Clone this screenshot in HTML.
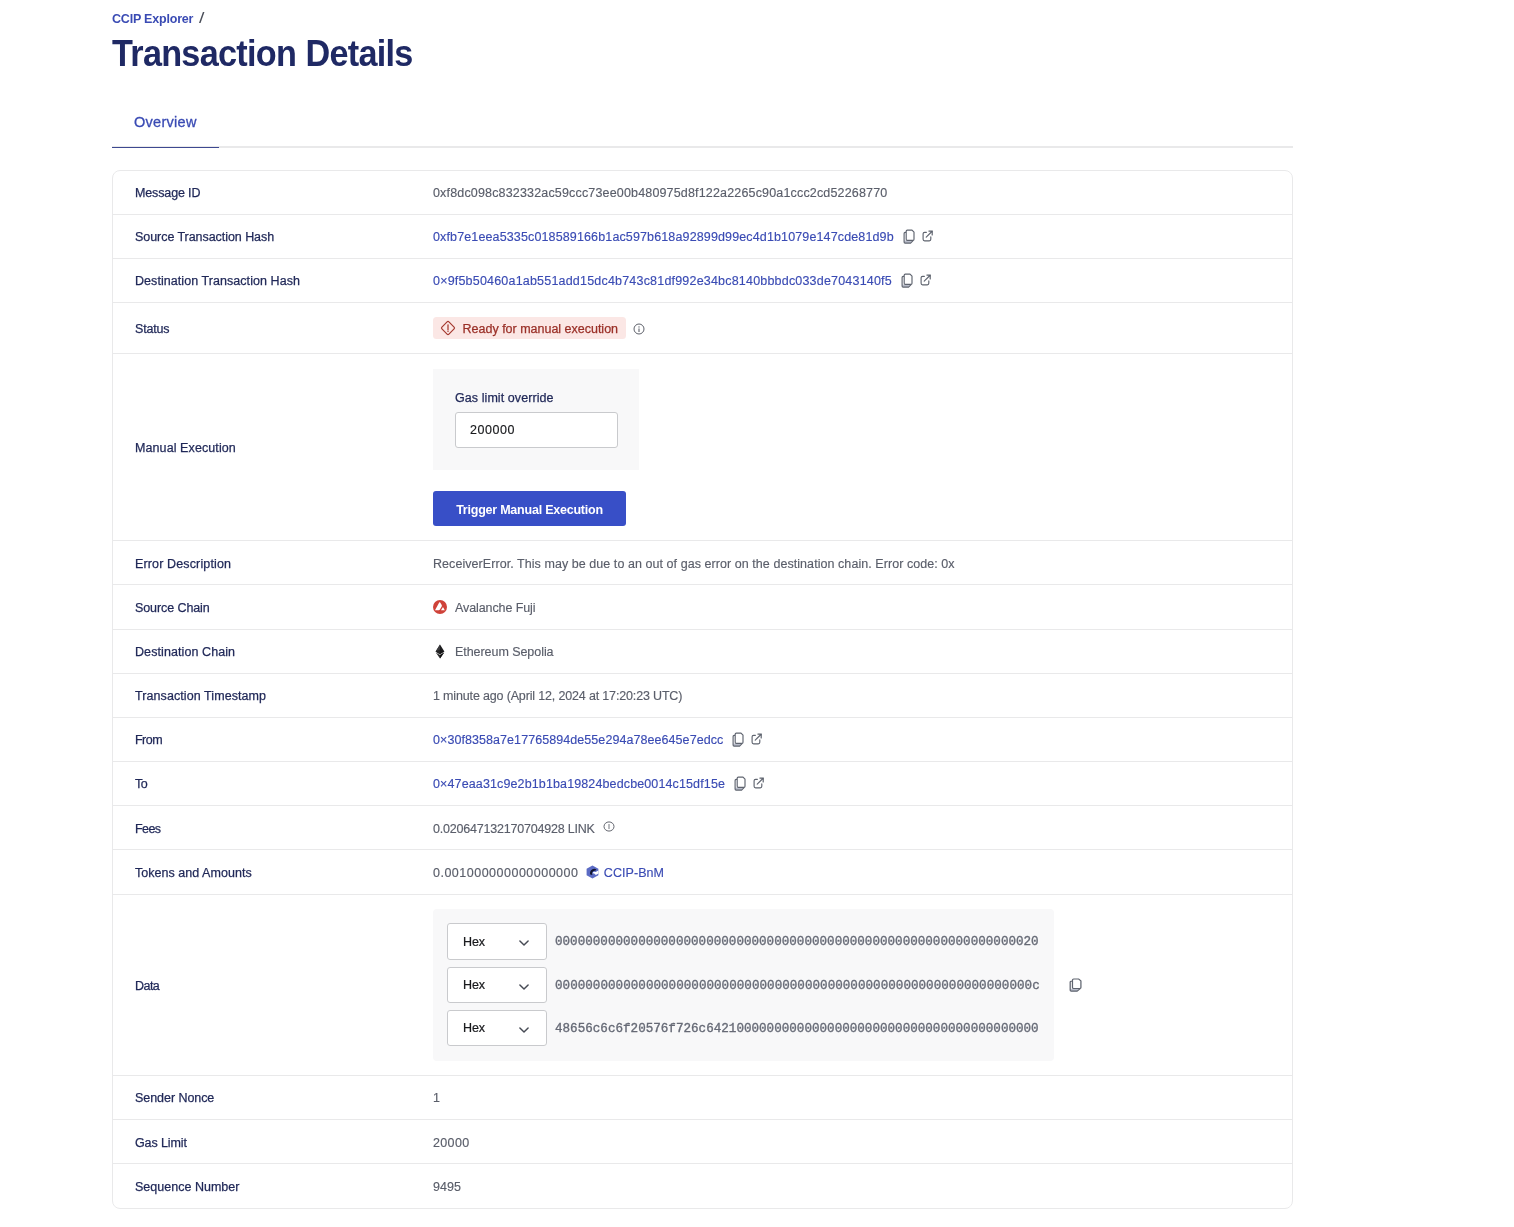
<!DOCTYPE html>
<html lang="en">
<head>
<meta charset="utf-8">
<title>Transaction Details</title>
<style>
*{box-sizing:border-box;margin:0;padding:0}
html,body{width:1514px;height:1227px;background:#fff;overflow:hidden}
body{font-family:"Liberation Sans",sans-serif;font-size:12.5px;color:#5a5e6a;position:relative}
span{white-space:nowrap}
.crumb{position:absolute;left:112px;top:10px;height:17px;line-height:17px;font-size:12.5px;font-weight:700;color:#3a4bb4;white-space:nowrap}
.crumb .sl{color:#4b4f59;font-weight:400;margin-left:6px;font-size:14.5px;display:inline-block;transform:scaleX(1.35);transform-origin:0 50%}
h1{position:absolute;left:112.3px;top:31.6px;font-size:36px;line-height:44px;font-weight:700;color:#1f2964;white-space:nowrap;transform:scaleX(.95);transform-origin:0 0}
.tabline{position:absolute;left:112px;top:146px;width:1181px;height:2px;background:#e9e9ea}
.tabsel{position:absolute;left:112px;top:147px;width:107px;height:1px;background:#3d4890}
.tab{position:absolute;left:134px;top:112.5px;height:18px;line-height:18px;font-size:14.5px;color:#3a4bb4;white-space:nowrap}
.card{position:absolute;left:112px;top:170px;width:1181px;border:1px solid #e9e9ea;border-radius:8px;background:#fff}
.row{position:relative;border-top:1px solid #e9e9ea;height:44px}
.row:first-child{border-top:0;height:43px}
.lab{position:absolute;left:22px;top:0;bottom:0;display:flex;align-items:center;color:#1f2757;white-space:nowrap}
.val{position:absolute;left:320px;top:0;bottom:0;display:flex;align-items:center;white-space:nowrap}
.lnk{color:#3a4bb4}
.ic{display:block;flex:none}
.cp{margin-left:9px}
.ex{margin-left:7px;position:relative;top:-0.7px}
.badge{display:flex;align-items:center;width:193px;height:22px;background:#fbe7e5;border-radius:3.5px;color:#9a2f27;padding:0 0 0 6.5px;-webkit-text-stroke:0.25px #9a2f27}
.badge .wr{margin-right:7.1px}
.sinf{margin-left:6.5px;position:relative;top:0.5px}
.gbox{position:absolute;left:0;top:15px;width:206px;height:101px;background:#f8f8f9}
.glab{position:absolute;left:22px;top:20.7px;line-height:16px;color:#1f2757}
.ginp{position:absolute;left:22px;top:43px;width:163px;height:36px;border:1px solid #c9cacd;border-radius:3px;background:#fff;line-height:34.5px;padding-left:14px;color:#18191c}
.btn{position:absolute;left:0;top:137px;width:193px;height:35px;border-radius:3px;background:#384fc7;color:#fff;font-weight:700;text-align:center;line-height:38px;overflow:hidden}
.av{margin-right:8px}
.et{margin:0 10px 0 2px}
.finf{margin-left:8px;position:relative;top:-1.1px;height:11px}
.tk{margin:0 4.9px 0 7.5px}
.dbox{position:absolute;left:0;top:14px;width:620.5px;height:152px;background:#f8f8f9;border-radius:4px}
.drow{position:absolute;left:14px;height:36px;display:flex;align-items:center}
.drow:nth-child(1){top:14px}
.drow:nth-child(2){top:58px}
.drow:nth-child(3){top:101px}
.sel{position:relative;width:100px;height:36px;border:1px solid #c9cacd;border-radius:3px;background:#fff;line-height:34px;padding-left:15px;color:#18191c;margin-right:8px}
.chev{position:absolute;left:71px;top:15.5px;width:10px;height:6.4px}
.mono{font-family:"Liberation Mono",monospace;font-size:12.6px;color:#666a76;-webkit-text-stroke:0.35px #666a76}
.dcp{position:absolute;left:636.4px;top:83.2px;margin:0;width:13px;height:14px}
.h1b{margin-left:9.9px}
.lab{-webkit-text-stroke:0.25px #1f2757}
.tab{-webkit-text-stroke:0.3px #3a4bb4}
#l3,#v3,#l4,#l5,#v5,#l6,#v6,#l11,#v11,#l12,#v12,#v12b,#l13,#l15,#v15,#l16,#v16{position:relative;top:1px}
.mono{position:relative;top:1px}
.drow:nth-child(1),.drow:nth-child(1) .sel{height:37px}
.drow:nth-child(1) .sel{line-height:37px}
.drow:nth-child(1) .mono{top:0}
.sel{-webkit-text-stroke:0.2px #18191c}
.ginp{-webkit-text-stroke:0.15px #18191c}
.glab{-webkit-text-stroke:0.25px #1f2757}
.page{position:absolute;left:0;top:0;width:1514px;height:1227px;will-change:transform}
.val{-webkit-text-stroke:0.15px}
.btn{-webkit-text-stroke:0}
</style>
</head>
<body>
<div class="page">
<div class="crumb"><span id="c1" style="letter-spacing:-0.200px">CCIP Explorer</span><span id="c2" class="sl">/</span></div>
<h1><span id="h1a" style="letter-spacing:-0.756px">Transaction</span><span id="h1b" class="h1b" style="letter-spacing:-0.756px">Details</span></h1>
<div class="tab"><span id="t1" style="letter-spacing:0.286px">Overview</span></div>
<div class="tabline"></div>
<div class="tabsel"></div>
<div class="card">
  <div class="row"><div class="lab"><span id="l0" style="letter-spacing:-0.134px">Message ID</span></div><div class="val"><span id="v0" style="letter-spacing:0.166px">0xf8dc098c832332ac59ccc73ee00b480975d8f122a2265c90a1ccc2cd52268770</span></div></div>
  <div class="row"><div class="lab"><span id="l1" style="letter-spacing:-0.054px">Source Transaction Hash</span></div><div class="val"><span id="v1" class="lnk" style="letter-spacing:0.135px">0xfb7e1eea5335c018589166b1ac597b618a92899d99ec4d1b1079e147cde81d9b</span><svg class="ic cp" width="12" height="15" viewBox="0 0 12 15"><path d="M3.2 11.5 H9.2 L7.4 14.1 H2.1 Q1.1 14.1 1.1 13.1 V11.5 Z" fill="#b9bdca"/><path d="M3.2 3.4 H2.1 Q1.1 3.4 1.1 4.4 V13.1 Q1.1 14.1 2.1 14.1 H7.6 L10.3 11.4" fill="none" stroke="#5f646f" stroke-width="1.15" stroke-linejoin="round"/><path d="M4.3 1.1 H9 L11 3.2 V10.2 Q11 11.3 9.9 11.3 H4.3 Q3.2 11.3 3.2 10.2 V2.2 Q3.2 1.1 4.3 1.1 Z" fill="#fff" stroke="#5f646f" stroke-width="1.15" stroke-linejoin="round"/></svg><svg class="ic ex" width="12" height="12" viewBox="0 0 12 12"><path d="M4.4 2.3 H2.6 Q1.1 2.3 1.1 3.8 V9.3 Q1.1 10.8 2.6 10.8 H7.3 Q8.8 10.8 8.8 9.3 V6.9" fill="none" stroke="#5f646f" stroke-width="1.15" stroke-linecap="round"/><path d="M4.2 7.2 L9.9 1.5" fill="none" stroke="#5f646f" stroke-width="1.15" stroke-linecap="round"/><path d="M6.9 1.1 H10.2 V4.9" fill="none" stroke="#5f646f" stroke-width="1.2" stroke-linecap="round" stroke-linejoin="miter"/><path d="M8.2 1.1 H10.2 V3.1 Z" fill="#5f646f"/></svg></div></div>
  <div class="row"><div class="lab"><span id="l2" style="letter-spacing:0.060px">Destination Transaction Hash</span></div><div class="val"><span id="v2" class="lnk" style="letter-spacing:0.197px">0×9f5b50460a1ab551add15dc4b743c81df992e34bc8140bbbdc033de7043140f5</span><svg class="ic cp" width="12" height="15" viewBox="0 0 12 15"><path d="M3.2 11.5 H9.2 L7.4 14.1 H2.1 Q1.1 14.1 1.1 13.1 V11.5 Z" fill="#b9bdca"/><path d="M3.2 3.4 H2.1 Q1.1 3.4 1.1 4.4 V13.1 Q1.1 14.1 2.1 14.1 H7.6 L10.3 11.4" fill="none" stroke="#5f646f" stroke-width="1.15" stroke-linejoin="round"/><path d="M4.3 1.1 H9 L11 3.2 V10.2 Q11 11.3 9.9 11.3 H4.3 Q3.2 11.3 3.2 10.2 V2.2 Q3.2 1.1 4.3 1.1 Z" fill="#fff" stroke="#5f646f" stroke-width="1.15" stroke-linejoin="round"/></svg><svg class="ic ex" width="12" height="12" viewBox="0 0 12 12"><path d="M4.4 2.3 H2.6 Q1.1 2.3 1.1 3.8 V9.3 Q1.1 10.8 2.6 10.8 H7.3 Q8.8 10.8 8.8 9.3 V6.9" fill="none" stroke="#5f646f" stroke-width="1.15" stroke-linecap="round"/><path d="M4.2 7.2 L9.9 1.5" fill="none" stroke="#5f646f" stroke-width="1.15" stroke-linecap="round"/><path d="M6.9 1.1 H10.2 V4.9" fill="none" stroke="#5f646f" stroke-width="1.2" stroke-linecap="round" stroke-linejoin="miter"/><path d="M8.2 1.1 H10.2 V3.1 Z" fill="#5f646f"/></svg></div></div>
  <div class="row" style="height:51px"><div class="lab"><span id="l3" style="letter-spacing:-0.200px">Status</span></div><div class="val"><span class="badge"><svg class="ic wr" width="16" height="16" viewBox="0 0 16 16"><rect x="3.05" y="3.05" width="9.9" height="9.9" rx="1.3" ry="1.3" transform="rotate(45 8 8)" fill="none" stroke="#a5382f" stroke-width="1.2"/><path d="M8 4.8 V9.7" stroke="#a5382f" stroke-width="1.25" stroke-linecap="round"/><circle cx="8" cy="11.2" r="0.75" fill="#a5382f"/></svg><span id="v3" style="letter-spacing:-0.008px">Ready for manual execution</span></span><svg class="ic inf sinf" width="12" height="12" viewBox="0 0 12 12"><circle cx="6" cy="6" r="5" fill="none" stroke="#5c5f69" stroke-width="1"/><path d="M6 5.5 V8.9" stroke="#5c5f69" stroke-width="1.1"/><circle cx="6" cy="3.9" r="0.7" fill="#5c5f69"/></svg></div></div>
  <div class="row" style="height:187px"><div class="lab"><span id="l4" style="letter-spacing:0.093px">Manual Execution</span></div><div class="val"><div class="gbox"><div class="glab"><span id="g1" style="letter-spacing:0.071px">Gas limit override</span></div><div class="ginp"><span id="g2" style="letter-spacing:0.560px">200000</span></div></div><div class="btn"><span id="g3" style="letter-spacing:-0.226px">Trigger Manual Execution</span></div></div></div>
  <div class="row"><div class="lab"><span id="l5" style="letter-spacing:0.137px">Error Description</span></div><div class="val"><span id="v5" style="letter-spacing:0.060px">ReceiverError. This may be due to an out of gas error on the destination chain. Error code: 0x</span></div></div>
  <div class="row" style="height:45px"><div class="lab"><span id="l6" style="letter-spacing:-0.091px">Source Chain</span></div><div class="val"><svg class="ic av" width="14" height="14" viewBox="0 0 14 14"><circle cx="7" cy="7" r="7" fill="#cf4239"/><path d="M2.0 10.3 L6.2 2.6 Q6.7 1.8 7.2 2.6 L8.7 5.0 Q9.1 5.7 8.7 6.4 L6.9 9.6 Q6.5 10.3 5.7 10.3 Z" fill="#fff"/><path d="M8.0 10.3 L9.5 7.7 Q9.95 7.0 10.4 7.7 L11.8 10.3 Z" fill="#fff"/></svg><span id="v6" class="cn" style="letter-spacing:-0.093px">Avalanche Fuji</span></div></div>
  <div class="row"><div class="lab"><span id="l7" style="letter-spacing:0.087px">Destination Chain</span></div><div class="val"><svg class="ic et" width="10" height="15" viewBox="0 0 10 15"><path d="M5 0.6 L9.4 7.6 L5 10.2 L0.6 7.6 Z" fill="#1d1d1f"/><path d="M5 0.6 L5 10.2 L0.6 7.6 Z" fill="#3a3a3d"/><path d="M5 5.6 L9.4 7.6 L5 10.2 L0.6 7.6 Z" fill="#111" opacity=".55"/><path d="M0.8 8.6 L5 11.1 L9.2 8.6 L5 14.4 Z" fill="#2a2a2c"/><path d="M5 11.1 L9.2 8.6 L5 14.4 Z" fill="#111"/></svg><span id="v7" class="cn" style="letter-spacing:-0.053px">Ethereum Sepolia</span></div></div>
  <div class="row"><div class="lab"><span id="l8" style="letter-spacing:0.080px">Transaction Timestamp</span></div><div class="val"><span id="v8" style="letter-spacing:-0.159px">1 minute ago (April 12, 2024 at 17:20:23 UTC)</span></div></div>
  <div class="row"><div class="lab"><span id="l9" style="letter-spacing:-0.533px">From</span></div><div class="val"><span id="v9" class="lnk" style="letter-spacing:0.069px">0×30f8358a7e17765894de55e294a78ee645e7edcc</span><svg class="ic cp" width="12" height="15" viewBox="0 0 12 15"><path d="M3.2 11.5 H9.2 L7.4 14.1 H2.1 Q1.1 14.1 1.1 13.1 V11.5 Z" fill="#b9bdca"/><path d="M3.2 3.4 H2.1 Q1.1 3.4 1.1 4.4 V13.1 Q1.1 14.1 2.1 14.1 H7.6 L10.3 11.4" fill="none" stroke="#5f646f" stroke-width="1.15" stroke-linejoin="round"/><path d="M4.3 1.1 H9 L11 3.2 V10.2 Q11 11.3 9.9 11.3 H4.3 Q3.2 11.3 3.2 10.2 V2.2 Q3.2 1.1 4.3 1.1 Z" fill="#fff" stroke="#5f646f" stroke-width="1.15" stroke-linejoin="round"/></svg><svg class="ic ex" width="12" height="12" viewBox="0 0 12 12"><path d="M4.4 2.3 H2.6 Q1.1 2.3 1.1 3.8 V9.3 Q1.1 10.8 2.6 10.8 H7.3 Q8.8 10.8 8.8 9.3 V6.9" fill="none" stroke="#5f646f" stroke-width="1.15" stroke-linecap="round"/><path d="M4.2 7.2 L9.9 1.5" fill="none" stroke="#5f646f" stroke-width="1.15" stroke-linecap="round"/><path d="M6.9 1.1 H10.2 V4.9" fill="none" stroke="#5f646f" stroke-width="1.2" stroke-linecap="round" stroke-linejoin="miter"/><path d="M8.2 1.1 H10.2 V3.1 Z" fill="#5f646f"/></svg></div></div>
  <div class="row"><div class="lab"><span id="l10" style="letter-spacing:-0.600px">To</span></div><div class="val"><span id="v10" class="lnk" style="letter-spacing:0.126px">0×47eaa31c9e2b1b1ba19824bedcbe0014c15df15e</span><svg class="ic cp" width="12" height="15" viewBox="0 0 12 15"><path d="M3.2 11.5 H9.2 L7.4 14.1 H2.1 Q1.1 14.1 1.1 13.1 V11.5 Z" fill="#b9bdca"/><path d="M3.2 3.4 H2.1 Q1.1 3.4 1.1 4.4 V13.1 Q1.1 14.1 2.1 14.1 H7.6 L10.3 11.4" fill="none" stroke="#5f646f" stroke-width="1.15" stroke-linejoin="round"/><path d="M4.3 1.1 H9 L11 3.2 V10.2 Q11 11.3 9.9 11.3 H4.3 Q3.2 11.3 3.2 10.2 V2.2 Q3.2 1.1 4.3 1.1 Z" fill="#fff" stroke="#5f646f" stroke-width="1.15" stroke-linejoin="round"/></svg><svg class="ic ex" width="12" height="12" viewBox="0 0 12 12"><path d="M4.4 2.3 H2.6 Q1.1 2.3 1.1 3.8 V9.3 Q1.1 10.8 2.6 10.8 H7.3 Q8.8 10.8 8.8 9.3 V6.9" fill="none" stroke="#5f646f" stroke-width="1.15" stroke-linecap="round"/><path d="M4.2 7.2 L9.9 1.5" fill="none" stroke="#5f646f" stroke-width="1.15" stroke-linecap="round"/><path d="M6.9 1.1 H10.2 V4.9" fill="none" stroke="#5f646f" stroke-width="1.2" stroke-linecap="round" stroke-linejoin="miter"/><path d="M8.2 1.1 H10.2 V3.1 Z" fill="#5f646f"/></svg></div></div>
  <div class="row"><div class="lab"><span id="l11" style="letter-spacing:-0.600px">Fees</span></div><div class="val"><span id="v11" style="letter-spacing:-0.208px">0.020647132170704928 LINK</span><svg class="ic inf finf" preserveAspectRatio="none" width="12" height="12" viewBox="0 0 12 12"><circle cx="6" cy="6" r="5" fill="none" stroke="#5c5f69" stroke-width="1"/><path d="M6 3.3 V8.8" stroke="#5c5f69" stroke-width="0.9"/></svg></div></div>
  <div class="row" style="height:45px"><div class="lab"><span id="l12" style="letter-spacing:0.035px">Tokens and Amounts</span></div><div class="val"><span id="v12" style="letter-spacing:0.495px">0.001000000000000000</span><svg class="ic tk" width="13" height="14" viewBox="0 0 13 14"><path d="M6.5 0.4 L12.4 3.7 V10.3 L6.5 13.6 L0.6 10.3 V3.7 Z" fill="#5b6bc4"/><path d="M4.2 9.6 Q3.3 6.2 6.4 4.3 Q8.6 3.2 10.4 4.6 L9.2 5.8 Q7.3 5.2 6.3 7.2 Q5.7 8.6 6.4 9.9 Z" fill="#12152e"/><path d="M6.6 8.2 Q7.4 6.4 9.6 6.9 L12.4 5.6 V8.6 L9.9 9.9 L8.2 8.4 Z" fill="#fff"/></svg><span id="v12b" class="lnk" style="letter-spacing:0.057px">CCIP-BnM</span></div></div>
  <div class="row" style="height:181px"><div class="lab"><span id="l13" style="letter-spacing:-0.533px">Data</span></div><div class="val"><div class="dbox"><div class="drow"><div class="sel"><span id="h1" style="letter-spacing:-0.100px">Hex</span><svg class="chev" width="11" height="7" viewBox="0 0 11 7"><path d="M1 1 L5.5 5.5 L10 1" fill="none" stroke="#474b55" stroke-width="1.6" stroke-linecap="round" stroke-linejoin="round"/></svg></div><span id="m1" class="mono">0000000000000000000000000000000000000000000000000000000000000020</span></div><div class="drow"><div class="sel"><span id="h2" style="letter-spacing:-0.100px">Hex</span><svg class="chev" width="11" height="7" viewBox="0 0 11 7"><path d="M1 1 L5.5 5.5 L10 1" fill="none" stroke="#474b55" stroke-width="1.6" stroke-linecap="round" stroke-linejoin="round"/></svg></div><span id="m2" class="mono" style="letter-spacing:0.016px">000000000000000000000000000000000000000000000000000000000000000c</span></div><div class="drow"><div class="sel"><span id="h3" style="letter-spacing:-0.100px">Hex</span><svg class="chev" width="11" height="7" viewBox="0 0 11 7"><path d="M1 1 L5.5 5.5 L10 1" fill="none" stroke="#474b55" stroke-width="1.6" stroke-linecap="round" stroke-linejoin="round"/></svg></div><span id="m3" class="mono">48656c6c6f20576f726c64210000000000000000000000000000000000000000</span></div></div><svg class="ic cp dcp" preserveAspectRatio="none" width="12" height="15" viewBox="0 0 12 15"><path d="M3.2 11.5 H9.2 L7.4 14.1 H2.1 Q1.1 14.1 1.1 13.1 V11.5 Z" fill="#b9bdca"/><path d="M3.2 3.4 H2.1 Q1.1 3.4 1.1 4.4 V13.1 Q1.1 14.1 2.1 14.1 H7.6 L10.3 11.4" fill="none" stroke="#5f646f" stroke-width="1.15" stroke-linejoin="round"/><path d="M4.3 1.1 H9 L11 3.2 V10.2 Q11 11.3 9.9 11.3 H4.3 Q3.2 11.3 3.2 10.2 V2.2 Q3.2 1.1 4.3 1.1 Z" fill="#fff" stroke="#5f646f" stroke-width="1.15" stroke-linejoin="round"/></svg></div></div>
  <div class="row"><div class="lab"><span id="l14" style="letter-spacing:-0.054px">Sender Nonce</span></div><div class="val"><span id="v14">1</span></div></div>
  <div class="row"><div class="lab"><span id="l15" style="letter-spacing:-0.100px">Gas Limit</span></div><div class="val"><span id="v15" style="letter-spacing:0.350px">20000</span></div></div>
  <div class="row" style="height:45px"><div class="lab"><span id="l16" style="letter-spacing:0.014px">Sequence Number</span></div><div class="val"><span id="v16" style="letter-spacing:0.066px">9495</span></div></div>
</div>
</div>
</body>
</html>
